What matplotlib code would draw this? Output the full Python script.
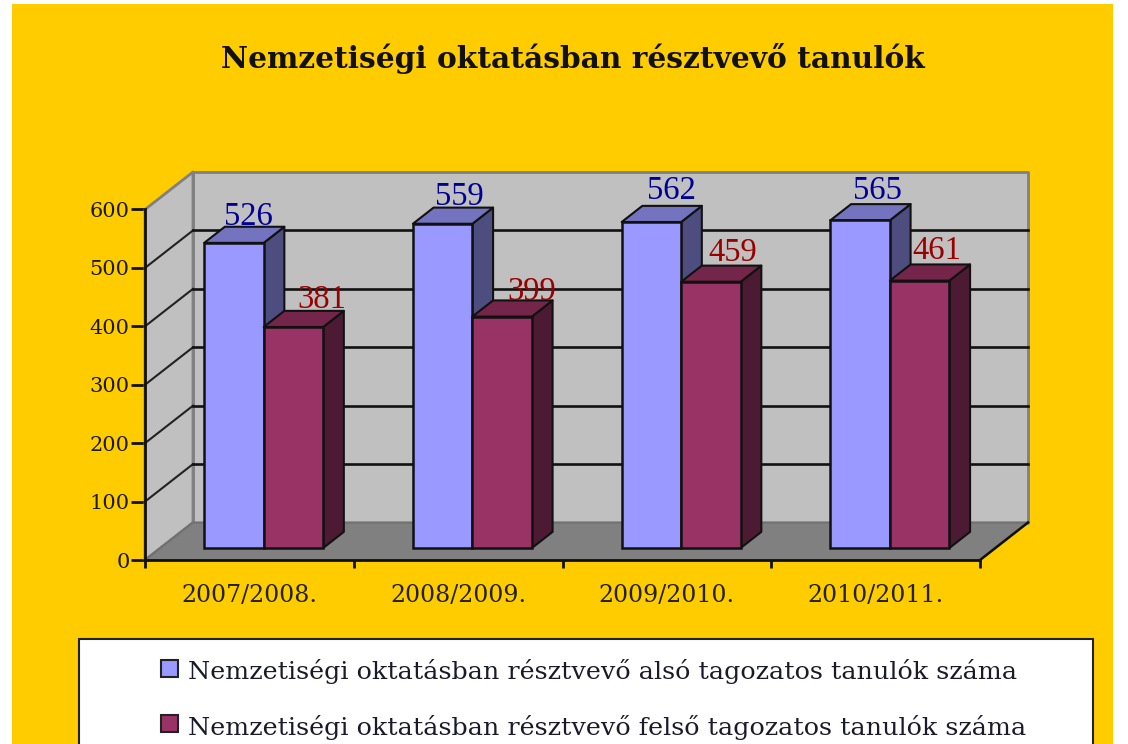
import matplotlib
matplotlib.use('Agg')
import matplotlib.pyplot as plt
from matplotlib.patches import Polygon, Rectangle

years = ['2007/2008.', '2008/2009.', '2009/2010.', '2010/2011.']
also = [526, 559, 562, 565]
felso = [381, 399, 459, 461]
yticks = [0, 100, 200, 300, 400, 500, 600]
title = 'Nemzetiségi oktatásban résztvevő tanulók'
legend_labels = ['Nemzetiségi oktatásban résztvevő alsó tagozatos tanulók száma',
                 'Nemzetiségi oktatásban résztvevő felső tagozatos tanulók száma']

# nudges of the value labels, they were placed by hand in the original
also_nudge = [(0.038, -4), (0.049, -2), (0.064, 5), (0.054, 3)]
felso_nudge = [(0.104, -1), (0.114, -5), (0.074, 2), (0.054, 3)]

W, H = 1128, 744
serif = 'Liberation Serif'
wide = 'DejaVu Serif'

fig = plt.figure(figsize=(W / 100, H / 100), dpi=100, facecolor='white')

# page layer in pixels
bg = fig.add_axes([0, 0, 1, 1])
bg.set_xlim(0, W)
bg.set_ylim(H, 0)
bg.axis('off')
bg.add_patch(Rectangle((12, 4), 1101, 745, fc='#FFCC00', ec='none'))
bg.add_patch(Rectangle((79, 639), 1014, 120, fc='white', ec='#222222', lw=1.5))
bg.text(573, 58, title, family=wide, fontsize=21.3, fontweight='bold', color='#111111',
        ha='center', va='center')
for i, (lab, fc) in enumerate(zip(legend_labels, ['#9999FF', '#993366'])):
    y = 671 + i * 55
    bg.add_patch(Rectangle((161, y - 11), 17, 17, fc=fc, ec='#222222', lw=1.5))
    bg.text(188, y + 1, lab, family=wide, fontsize=18.25, color='#1a1a2a', ha='left', va='center')

# chart layer, front plane of the 3d box
left, right, top, bottom = 145, 980, 209.5, 560
ax = fig.add_axes([left / W, 1 - bottom / H, (right - left) / W, (bottom - top) / H])
ax.patch.set_visible(False)
ax.set_xlim(0, len(years))
ax.set_ylim(0, 600)

ux = (right - left) / len(years)
uy = (bottom - top) / 600
depth_x = 48 / ux
depth_y = 37.5 / uy


def p(x, v, d=0.0):
    # d=0 front of the box, d=1 back wall
    return (x + d * depth_x, v + d * depth_y)


def poly(pts, fc, ec, lw=1.5, z=2):
    ax.add_patch(Polygon(pts, closed=True, fc=fc, ec=ec, lw=lw, zorder=z, clip_on=False, joinstyle='round'))


n = len(years)
poly([p(0, 0, 1), p(n, 0, 1), p(n, 600, 1), p(0, 600, 1)], '#C0C0C0', '#808080', 2)
poly([p(0, 0), p(0, 0, 1), p(0, 600, 1), p(0, 600)], '#C0C0C0', '#808080', 2)
poly([p(0, 0), p(n, 0), p(n, 0, 1), p(0, 0, 1)], '#808080', '#707070', 1.5)
ax.plot(*zip(p(n, 0), p(n, 0, 1)), color='#111111', lw=1.8, zorder=2.5, clip_on=False)

for v in yticks[1:-1]:
    ax.plot(*zip(p(0, v), p(0, v, 1)), color='#222222', lw=1.5, zorder=2.5, clip_on=False)
    ax.plot(*zip(p(0, v, 1), p(n, v, 1)), color='#111111', lw=1.9, zorder=2.5, clip_on=False)

# bars
d0, d1 = 0.32, 0.75
bw = 0.285
gap_start = 0.21
z = 3
for i in range(n):
    x0 = i + gap_start
    for x, v, cols in [(x0, also[i], ('#9999FF', '#4D4D80', '#7373BF')),
                       (x0 + bw, felso[i], ('#993366', '#4D1A33', '#732649'))]:
        front, side, roof = cols
        b = p(0, 0, d0)[1]
        xa = x + p(0, 0, d0)[0]
        xb = xa + bw
        ta = v * 0.993
        poly([p(xb, b + 0, 0), p(xb, ta + b, 0), p(xb, ta + b, d1 - d0), p(xb, b, d1 - d0)], side, '#111111', 1.5, z)
        poly([p(xa, ta + b, 0), p(xb, ta + b, 0), p(xb, ta + b, d1 - d0), p(xa, ta + b, d1 - d0)], roof, '#111111', 1.5, z)
        ax.bar(xa, ta, width=bw, bottom=b, align='edge', color=front, edgecolor='#111111', lw=1.8, zorder=z, clip_on=False)
        z += 1

for i in range(n):
    xa = i + gap_start + p(0, 0, d0)[0]
    b = p(0, 0, d0)[1]
    ax.text(xa + bw * 0.5 + 0.03 + also_nudge[i][0], also[i] * 0.993 + b + 48 + also_nudge[i][1], str(also[i]),
            family=serif, fontsize=23.5, color='#000099', ha='center', va='center', zorder=20, clip_on=False)
    ax.text(xa + bw * 1.5 + 0.03 + felso_nudge[i][0], felso[i] * 0.993 + b + 48 + felso_nudge[i][1], str(felso[i]),
            family=serif, fontsize=23.5, color='#990000', ha='center', va='center', zorder=20, clip_on=False)

# axes
for s in ['top', 'right']:
    ax.spines[s].set_visible(False)
for s in ['left', 'bottom']:
    ax.spines[s].set_linewidth(2)
    ax.spines[s].set_color('#111111')
    ax.spines[s].set_zorder(30)
ax.set_yticks(yticks)
ax.set_yticklabels([str(v) for v in yticks], family=wide, fontsize=15, color='#1a1a00')
ax.tick_params(axis='y', length=10, width=2, pad=1, color='#111111')
ax.set_xticks(range(n + 1))
ax.set_xticklabels([])
ax.tick_params(axis='x', which='major', length=6, width=2, color='#111111')
ax.set_xticks([i + 0.5 for i in range(n)], minor=True)
ax.set_xticklabels(years, minor=True, family=wide, fontsize=17, color='#222200')
ax.tick_params(axis='x', which='minor', length=0, pad=17)

fig.savefig('out.png', dpi=100)
